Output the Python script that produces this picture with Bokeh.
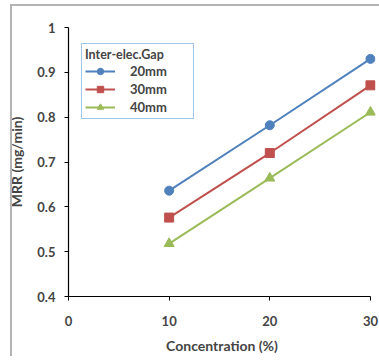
from bokeh.plotting import figure
from bokeh.embed import file_html
from bokeh.resources import INLINE
from bokeh.models import Range1d, FixedTicker, Legend, LegendItem, InlineStyleSheet

concentration = [10, 20, 30]
gap_labels = ["20mm", "30mm", "40mm"]
mrr_20 = [0.636, 0.782, 0.930]
mrr_30 = [0.576, 0.720, 0.871]
mrr_40 = [0.518, 0.664, 0.811]
x_ticks = [0, 10, 20, 30]
y_ticks = [0.4, 0.5, 0.6, 0.7, 0.8, 0.9, 1.0]

FONT = "Lato"

p = figure(width=379, height=356, output_backend="svg", toolbar_location=None,
           x_range=Range1d(0, 30.5), y_range=Range1d(0.4, 1.0),
           min_border_left=68, min_border_right=4, min_border_top=27, min_border_bottom=59)
p.grid.visible = False
p.outline_line_color = None
p.background_fill_color = "white"
p.border_fill_color = "white"
p.stylesheets = [InlineStyleSheet(css=(
    ":host::after { content: ''; position: absolute; left: 10px; top: 4px; right: 0px; bottom: 0px;"
    " border-top: 2px solid #b4b4b4; border-left: 2px solid #b4b4b4;"
    " pointer-events: none; z-index: 10; }"
))]

colors = ["#4F81BD", "#C0504D", "#9BBB59"]
series = [mrr_20, mrr_30, mrr_40]
items = []
for i, (vals, c, lab) in enumerate(zip(series, colors, gap_labels)):
    r1 = p.line(concentration, vals, line_color=c, line_width=2)
    if i == 0:
        r2 = p.scatter(concentration, vals, marker="circle", size=9, color=c)
    elif i == 1:
        r2 = p.scatter(concentration, vals, marker="square", size=9, color=c)
    else:
        r2 = p.scatter(concentration, vals, marker="triangle", size=10, color=c)
    items.append(LegendItem(label=lab, renderers=[r1, r2]))

legend = Legend(items=items, location=(13, 177), title="Inter-elec.Gap",
                title_text_font=FONT, title_text_font_style="bold", title_text_font_size="12.5px",
                title_text_align="right",
                label_text_font=FONT, label_text_font_style="bold", label_text_font_size="13px",
                border_line_color="#3d8fd6", border_line_width=1.5,
                background_fill_color="white", background_fill_alpha=1,
                glyph_width=30, glyph_height=16, label_height=16, label_width=60, spacing=2,
                padding=3, margin=0, label_standoff=15, title_standoff=1)
p.add_layout(legend, "center")

for ax in (p.xaxis[0], p.yaxis[0]):
    ax.axis_line_color = "black"
    ax.axis_line_width = 1.2
    ax.major_tick_line_color = "black"
    ax.major_tick_in = 0
    ax.major_tick_out = 4
    ax.minor_tick_line_color = None
    ax.major_label_text_font = FONT
    ax.major_label_text_font_style = "bold"
    ax.major_label_text_font_size = "13px"
    ax.axis_label_text_font = FONT
    ax.axis_label_text_font_style = "bold"
    ax.axis_label_text_font_size = "14px"

p.xaxis.ticker = FixedTicker(ticks=x_ticks)
p.xaxis.bounds = (0, 30)
p.xaxis.major_label_standoff = 15
p.xaxis.axis_label = "Concentration (%)"
p.xaxis.axis_label_standoff = 8

p.yaxis.ticker = FixedTicker(ticks=y_ticks)
p.yaxis.major_label_overrides = {1.0: "1"}
p.yaxis.bounds = (0.4, 1.0)
p.yaxis.major_label_standoff = 9
p.yaxis.axis_label = "MRR (mg/min)"
p.yaxis.axis_label_standoff = 9

open("out.html", "w").write(file_html(p, INLINE))
